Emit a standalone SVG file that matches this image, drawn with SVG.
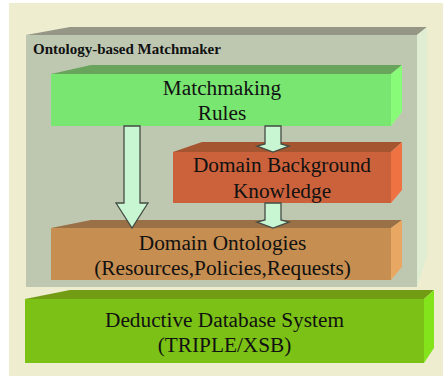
<svg xmlns="http://www.w3.org/2000/svg" width="443" height="376" viewBox="0 0 443 376">
<style>
text{font-family:"Liberation Serif","Times New Roman",serif;fill:#111;text-anchor:middle;font-size:21.3px}
.t{font-size:15px;font-weight:bold;text-anchor:start}
.a{fill:#c8f5d2;stroke:#444c44;stroke-width:1.3}
</style>
<rect width="443" height="376" fill="#fff"/>
<rect x="9" y="3" width="434" height="373" fill="#eeedcf"/>
<g id="matchmaker">
<rect x="26" y="35" width="391" height="252" fill="#bec8b1"/>
<polygon points="26,35 70,27 427,27 417,35" fill="#959685"/>
<polygon points="417,35 427,27 427,256 417,287" fill="#dfeed2"/>
<text class="t" x="33" y="54">Ontology-based Matchmaker</text>
</g>
<g id="rules">
<rect x="51" y="74" width="340" height="52" fill="#7ae672"/>
<polygon points="51,74 91,65 402,65 391,74" fill="#68a45c"/>
<polygon points="391,74 402,65 402,112 391,126" fill="#88fc78"/>
<text x="222" y="95">Matchmaking</text>
<text x="222" y="120">Rules</text>
</g>
<g id="background">
<rect x="173" y="152" width="218" height="51" fill="#cc623c"/>
<polygon points="173,152 202,142 402,142 391,152" fill="#a55530"/>
<polygon points="391,152 402,142 402,190 391,203" fill="#ee7242"/>
<text x="282" y="172">Domain Background</text>
<text x="282" y="198">Knowledge</text>
</g>
<g id="ontologies">
<rect x="51" y="228" width="340" height="52" fill="#c68e50"/>
<polygon points="51,228 91,220 402,220 391,228" fill="#9a7046"/>
<polygon points="391,228 402,220 402,267 391,280" fill="#e8a864"/>
<text x="222.5" y="250">Domain Ontologies</text>
<text x="222.5" y="275">(Resources,Policies,Requests)</text>
</g>
<g id="database">
<rect x="25" y="299" width="399" height="64" fill="#7cc216"/>
<polygon points="25,299 70,290 434,290 424,299" fill="#719c14"/>
<polygon points="424,299 434,290 434,348 424,363" fill="#84e41c"/>
<text x="224.5" y="327">Deductive Database System</text>
<text x="224.5" y="352">(TRIPLE/XSB)</text>
</g>
<g id="connectors">
<polygon class="a" points="124,126 140,126 140,203 148,203 132,228 116,203 124,203"/>
<polygon class="a" points="265,126 281,126 281,144 289,146 273,152 257,146 265,144"/>
<polygon class="a" points="265,203 281,203 281,220 289,222 273,228 257,222 265,220"/>
</g>
</svg>
